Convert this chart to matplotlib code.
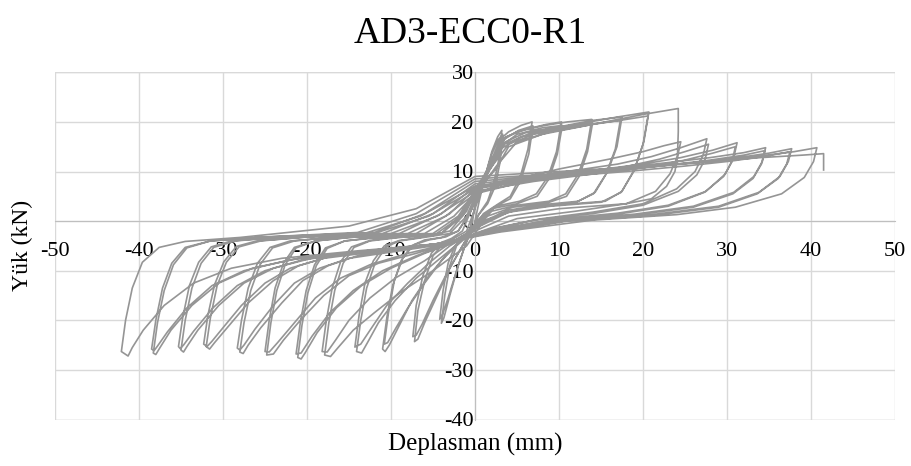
import matplotlib
matplotlib.use("Agg")
import matplotlib.pyplot as plt

title = "AD3-ECC0-R1"
xlabel = "Deplasman (mm)"
ylabel = "Yük (kN)"
x_ticks = [-50, -40, -30, -20, -10, 0, 10, 20, 30, 40, 50]
y_ticks = [-40, -30, -20, -10, 0, 10, 20, 30]

# Hysteresis cycles (displacement mm, load kN)
a00_d = [0, 0.5, 1.2, 2.0, 2.7, 3.2, 2.9, 2.3, 1.5, 0.5, 0, -1, -2, -3, -3.7, -4.0, -3.6, -3.0, -2.2, -1.2]
a00_l = [0, 4, 9, 14, 17, 18.3, 13, 8, 4, 1.5, -0.5, -4, -9, -15, -19.5, -20.6, -15, -9, -5, -3.5]
a00r_d = [-0.5, 0, 1, 2, 2.8, 3.3, 3.0, 2.4, 1.5, 0.3, -0.3, -1.2, -2.2, -3.2, -3.9, -4.2, -3.8, -3.2, -2.4, -1.4]
a00r_l = [-1, 3, 8, 13.5, 16.5, 17.5, 12, 7, 3.5, 1, -1.5, -5, -10, -15.5, -19, -19.8, -14, -8.5, -5, -3.5]
a01_d = [-0.5, 0, 1, 2, 3, 4, 5.5, 6.8, 6.3, 5.4, 4.2, 2.8, 1, 0, -1.5, -3, -4.5, -6, -6.8, -7.2, -6.8, -6.0, -5.0, -3.8, -2.5]
a01_l = [-1.5, 3, 8, 12.5, 16.5, 18, 19.3, 20, 14.5, 9, 5, 3.5, 1.5, -1, -5, -9.5, -15, -20.5, -23.8, -24.3, -18, -12, -7, -4.5, -3.5]
a01r_d = [-1, 0, 1.2, 2.5, 3.5, 5.2, 6.9, 6.4, 5.4, 4.2, 2.5, 0.5, -0.5, -2, -3.5, -5, -6.3, -7.0, -7.4, -7.0, -6.2, -5.2, -4, -2.8]
a01r_l = [-2, 2.5, 8.5, 14, 16.5, 18.3, 19.2, 13.5, 8, 4.5, 3, 0.5, -2, -6.5, -11, -16, -20.8, -23, -23.3, -17, -11, -6.5, -4.3, -3.5]
a02_d = [-1.5, 0, 1.5, 2.7, 3.7, 6, 8.5, 10.3, 9.7, 8.7, 7.3, 5.3, 2.5, 0.5, -1.5, -3.5, -5.5, -7.5, -9, -10.2, -10.7, -11.0, -10.5, -9.8, -8.8, -7.6, -6, -4]
a02_l = [-2, 4, 9.5, 14.5, 17, 18.5, 19.5, 20, 14, 9, 5.5, 4, 3, 0, -3.5, -7, -11, -16, -21, -25, -26.3, -25.8, -19.5, -13, -8, -5, -3.8, -3.3]
a02r_d = [-2, -0.5, 0.5, 1.8, 3, 5, 8, 10.4, 9.8, 8.8, 7.4, 5, 2, 0, -2, -4, -6, -8, -9.4, -10.4, -10.8, -10.3, -9.6, -8.6, -7.3, -5.5, -3.5]
a02r_l = [-2, 2, 6, 11, 15, 17.5, 18.8, 19.3, 13.5, 8.5, 5, 3.5, 2.5, -1, -4.5, -8, -12.5, -17.5, -21.5, -24.5, -24.8, -18.5, -12, -7.5, -4.8, -3.8, -3.2]
a03_d = [-2, -0.5, 0.5, 2, 3.2, 5, 8, 11, 13.9, 13.3, 12.3, 10.8, 8.8, 5, 2, 0, -2, -4.5, -7, -9.5, -11.5, -12.8, -13.5, -14.1, -13.6, -12.9, -11.9, -10.6, -9, -6.5]
a03_l = [-2, 2, 7, 12, 16.5, 18, 19.2, 20, 20.5, 14.5, 9.5, 5.5, 4, 3.2, 2, -1.5, -4.5, -8, -11.5, -16, -20.5, -24.5, -26.6, -26.3, -20, -13.5, -8.5, -5.2, -4, -3.4]
a03r_d = [-3, -1, 0, 1.5, 3, 5.5, 9, 12, 14, 13.4, 12.4, 10.9, 8.5, 4.5, 1.5, -0.5, -3, -5.5, -8, -10.5, -12.3, -13.6, -14.3, -13.8, -13.1, -12.1, -10.8, -9, -6.5]
a03r_l = [-2.5, 1, 5, 10, 14.5, 17, 18.5, 19.3, 19.8, 14, 9, 5, 3.6, 2.8, 1, -2.5, -5, -8.5, -12.5, -17, -21.5, -24.8, -25.4, -19, -12.5, -8, -5, -3.9, -3.3]
a04_d = [-3, -1, 0, 1.5, 3, 6, 10, 14, 17.5, 16.9, 15.8, 14.3, 12.3, 8, 4, 1, -1, -5, -9, -12, -14.5, -16.3, -17.2, -17.9, -17.4, -16.7, -15.7, -14.4, -12.5, -9.5]
a04_l = [-2, 2, 6, 10.5, 15.5, 17.8, 19, 20.3, 21, 15, 10, 5.8, 4, 3.3, 2.2, 0, -5, -10, -14.5, -18.5, -22, -25.5, -27.3, -27, -20.5, -14, -8.5, -5.3, -4, -3.4]
a04r_d = [-4, -1.5, 0, 2, 4, 7, 11, 14.5, 17.3, 16.7, 15.6, 14.1, 12, 7.5, 3, 0, -3, -6, -9.5, -12.5, -15, -16.6, -17.6, -18.2, -17.7, -17.0, -16.0, -14.7, -12.5, -9.5]
a04r_l = [-2.5, 1, 5.5, 11, 15.5, 17.5, 18.8, 19.7, 20.3, 14.5, 9.5, 5.5, 3.8, 3, 1.5, -1.5, -4.5, -8, -11.5, -15.5, -20, -24, -26.4, -26.3, -20, -13.5, -8.2, -5.2, -3.9, -3.3]
a05_d = [-4, -1.5, 0, 2, 3.5, 7, 12, 17, 20.7, 20.1, 19.0, 17.5, 15.5, 10, 5, 1,
         -2, -6, -10, -13.5, -16.5, -18.8, -20.2, -20.7, -21.1,
         -20.6, -19.9, -18.9, -17.6, -15.5, -12]
a05_l = [-2.5, 1.5, 6.5, 11, 15.5, 18, 19.5, 21, 22, 16, 10.5, 6, 4, 3.3, 2.3, 0,
         -4, -6.5, -9.5, -13, -17.5, -22.5, -26.5, -27.8, -27.5,
         -21, -14.5, -9, -5.5, -4, -3.4]
a05r_d = [-5, -2, 0, 2.5, 5, 9, 14, 18, 20.6, 20.0, 18.9, 17.4, 15, 9, 4, 0,
          -3, -7, -11, -14.5, -17.3, -19.4, -20.7, -21.3,
          -20.8, -20.1, -19.1, -17.8, -15.5, -12]
a05r_l = [-3, 0.5, 5, 11, 16, 18, 19.5, 20.5, 21.2, 15.5, 10, 5.8, 3.8, 3, 1.8, -1.5,
          -4.5, -7, -10, -14, -18.5, -23.2, -26.6, -26.8,
          -20.5, -14, -8.8, -5.4, -4, -3.3]
a06_d = [-5, -2, 0, 2.5, 4, 8, 14, 20, 24.2, 24.2, 24.1, 23.8, 22.8, 21, 18, 10, 4, 0,
         -3, -7, -11.5, -15, -18, -20.8, -22.8, -24, -24.8,
         -24.3, -23.6, -22.6, -21.3, -19, -15]
a06_l = [-2.5, 1, 6, 10.5, 15, 17.5, 19.5, 21.5, 22.7, 18, 13, 10, 7, 4.5, 3.5, 2.5, 1, -2,
         -4.5, -6.5, -8.5, -11, -15, -20, -24, -26.8, -27,
         -20.5, -14, -8.8, -5.4, -4, -3.3]
a06r_d = [-6, -2.5, 0, 5, 10, 16, 20, 22.5, 24.5, 24.1, 23.2, 21.5, 18, 12, 5, 0,
          -3, -8, -12.5, -16, -19, -21.5, -23.5, -24.5, -25,
          -24.5, -23.8, -22.8, -21.5, -19, -15]
a06r_l = [-2.5, 1, 5.5, 8.5, 10.5, 12.5, 14, 15.2, 16, 13, 9.5, 6, 3.5, 2, 0.5, -2.5,
          -4.5, -6.5, -8.8, -11.5, -15.5, -20.5, -24.5, -26.4, -26.3,
          -20, -13.5, -8.5, -5.3, -4, -3.3]
a07_d = [-7, -3, 0, 5, 11, 17, 21, 24.5, 27.6, 27.2, 26.2, 24, 20, 14, 8, 2,
         -2, -8, -14, -17.5, -20.5, -23, -25.5, -27, -27.6, -28,
         -27.5, -26.7, -25.6, -24.1, -21.5, -17]
a07_l = [-2.5, 1.5, 6.5, 8.5, 10, 11.5, 13, 14.8, 16.6, 13.5, 10, 6.5, 3.5, 1.8, 0.5, -1.5,
         -4, -5.5, -7, -9, -12, -16.5, -21.5, -25, -26.7, -26.4,
         -20.5, -14, -8.8, -5.4, -4, -3.3]
a07r_d = [-8, -3.5, 0, 6, 12, 18, 22, 25, 27.8, 27.4, 26.4, 24.2, 20, 14, 7, 1,
          -3, -9, -15, -18.5, -21.5, -24, -26.2, -27.5, -28, -28.3,
          -27.8, -27.0, -25.9, -24.4, -22, -17]
a07r_l = [-2.5, 1, 5.5, 8, 9.5, 11, 12.5, 14, 15.5, 12.5, 9.3, 6, 3.2, 1.5, 0.2, -2,
          -4.5, -6, -7.5, -9.5, -12.5, -17, -21.8, -25, -26, -25.6,
          -20, -13.5, -8.5, -5.3, -4, -3.3]
a08_d = [-9, -4, 0, 6, 13, 20, 24.5, 28.3, 31.2, 30.8, 29.8, 27.5, 23, 17, 9, 2,
         -3, -10, -17, -21, -24, -27, -29.5, -31, -31.6, -32,
         -31.5, -30.7, -29.6, -28.1, -25.5, -20]
a08_l = [-2.5, 1.5, 7, 8.5, 10, 11.5, 12.8, 14.3, 15.8, 12.8, 9.5, 6, 3.2, 1.6, 0.3, -1.8,
         -4.3, -5.5, -7, -9, -12, -16.5, -21.5, -24.5, -25.8, -25.3,
         -19.5, -13, -8.3, -5.2, -4, -3.2]
a08r_d = [-10, -4.5, 0, 7, 14, 21, 25, 28.3, 31.0, 30.6, 29.6, 27.3, 23, 17, 9, 2,
          -3.5, -11, -18, -22, -25, -27.8, -30, -31.3, -31.9, -32.3,
          -31.8, -31.0, -29.9, -28.4, -26, -20]
a08r_l = [-2.5, 1, 6, 8, 9.5, 11, 12.3, 13.7, 15, 12, 9, 5.8, 3, 1.4, 0, -2,
          -4.5, -6, -7.5, -9.5, -12.5, -17, -21.5, -24.2, -25.3, -24.8,
          -19, -12.8, -8.2, -5.1, -4, -3.2]
a09_d = [-11, -5, 0, 8, 16, 23, 28, 32, 34.6, 34.2, 33.2, 30.8, 26, 19, 10, 2,
         -4, -12, -19.5, -24, -27.5, -30.5, -33, -34.3, -34.7, -35,
         -34.5, -33.7, -32.6, -31.1, -28.5, -23]
a09_l = [-2.5, 1.5, 7.5, 9, 10.5, 11.8, 12.8, 13.8, 14.8, 12, 9, 5.8, 3, 1.4, 0.2, -2,
         -4.5, -6, -7.5, -9.5, -12.5, -17, -22, -25.3, -26.4, -26,
         -20, -13.5, -8.5, -5.3, -4, -3.2]
a09r_d = [-12, -5.5, 0, 8, 16, 23, 28, 32, 34.5, 34.1, 33.1, 30.7, 26, 19, 10, 2,
          -4.5, -13, -20.5, -25, -28.3, -31.2, -33.5, -34.7, -35.1, -35.3,
          -34.8, -34.0, -32.9, -31.4, -29, -23]
a09r_l = [-2.5, 1, 6.5, 8.5, 10, 11.3, 12.3, 13.3, 14.2, 11.5, 8.6, 5.5, 2.8, 1.2, 0, -2.2,
          -4.6, -6.2, -7.8, -10, -13, -17.5, -22.2, -25, -25.7, -25.3,
          -19.5, -13, -8.3, -5.2, -4, -3.2]
a10_d = [-12, -6, 0, 9, 18, 25, 30.5, 35, 37.7, 37.3, 36.3, 33.8, 29, 21, 11, 2,
         -4.5, -13, -21, -26.5, -30.5, -33.7, -36.2, -37.5, -38, -38.3,
         -37.8, -37.0, -35.9, -34.3, -31.5, -25]
a10_l = [-2.3, 1.5, 8, 9.3, 10.5, 11.6, 12.6, 13.7, 14.6, 12, 9, 5.8, 3, 1.3, 0.1, -2.2,
         -4.6, -6, -7.5, -9.5, -12.5, -17, -22, -25.5, -26.9, -26.6,
         -20.5, -14, -8.8, -5.4, -4, -3.2]
a10r_d = [-13, -6.5, 0, 9, 18, 25, 30.5, 35, 37.5, 37.1, 36.1, 33.6, 29, 21, 11, 2,
          -5, -14, -22, -27.5, -31.3, -34.3, -36.6, -37.8, -38.2, -38.5,
          -38.0, -37.2, -36.1, -34.5, -31.5, -25]
a10r_l = [-2.4, 1, 7, 8.8, 10, 11.1, 12.1, 13.2, 14, 11.5, 8.6, 5.5, 2.8, 1.1, 0, -2.3,
          -4.7, -6.2, -7.8, -10, -13, -17.5, -22.3, -25.2, -26.1, -25.8,
          -20, -13.5, -8.5, -5.3, -4, -3.2]
a11_d = [-14, -7, 0, 10, 20, 28, 33.5, 38, 40.7, 40.3, 39.2, 36.5, 31, 24, 14, 3,
         -5, -14, -23, -29, -33.5, -37, -39.5, -40.8, -41.3, -42.1,
         -41.6, -40.8, -39.6, -37.6, -34.5, -28]
a11_l = [-2.3, 1.5, 8.5, 9.6, 10.8, 12, 13, 14, 14.8, 12, 8.8, 5.5, 2.8, 1.3, 0.2, -2.2,
         -4.7, -6, -7.5, -9.5, -12.5, -17, -22, -25.5, -27.2, -26.3,
         -20, -13.5, -8.3, -5.3, -4.1, -3.3]
a12_d = [-15, -7, 0, 10, 20, 28, 34, 39, 41.5, 41.5]
a12_l = [-1, 2.5, 9, 10, 11, 12, 12.8, 13.3, 13.6, 10.3]

cycles = [(a00_d, a00_l), (a00r_d, a00r_l), (a01_d, a01_l), (a01r_d, a01r_l),
          (a02_d, a02_l), (a02r_d, a02r_l), (a03_d, a03_l), (a03r_d, a03r_l),
          (a04_d, a04_l), (a04r_d, a04r_l), (a05_d, a05_l), (a05r_d, a05r_l),
          (a06_d, a06_l), (a06r_d, a06r_l), (a07_d, a07_l), (a07r_d, a07r_l),
          (a08_d, a08_l), (a08r_d, a08r_l), (a09_d, a09_l), (a09r_d, a09r_l),
          (a10_d, a10_l), (a10r_d, a10r_l), (a11_d, a11_l), (a12_d, a12_l)]

disp, load = [], []
for d, l in cycles:
    disp += d
    load += l

plt.rcParams['font.family'] = ['Liberation Serif', 'DejaVu Serif']
plt.rcParams['axes.unicode_minus'] = False

fig = plt.figure(figsize=(9.12, 4.66), dpi=100)
ax = fig.add_axes([55/912, 1 - 419.5/466, 840/912, 347.2/466])

ax.plot(disp, load, color='#959595', lw=1.2, solid_joinstyle='round', zorder=3)

ax.set_xlim(-50, 50)
ax.set_ylim(-40, 30)
ax.set_xticks(x_ticks)
ax.set_yticks(y_ticks)
ax.grid(True, color='#d9d9d9', lw=1.0, zorder=0)
ax.set_axisbelow(True)

for s in ['top', 'right']:
    ax.spines[s].set_visible(False)
ax.spines['left'].set_position(('data', 0))
ax.spines['bottom'].set_position(('data', 0))
ax.spines['left'].set_color('#bfbfbf')
ax.spines['bottom'].set_color('#bfbfbf')
ax.tick_params(axis='both', length=0, labelsize=16)
ax.tick_params(axis='x', pad=15)
ax.tick_params(axis='y', pad=1)

ax.axhline(30, color='#d9d9d9', lw=1.0, zorder=0)
ax.axhline(-40, color='#d9d9d9', lw=1.0, zorder=0)

fig.text(470/912, 1 - 34/466, title, ha='center', va='center', fontsize=27)
fig.text(475/912, 1 - 444/466, xlabel, ha='center', va='center', fontsize=18)
fig.text(22/912, 1 - 245/466, ylabel, ha='center', va='center', fontsize=17, rotation=90)

fig.savefig("out.png", dpi=100)
